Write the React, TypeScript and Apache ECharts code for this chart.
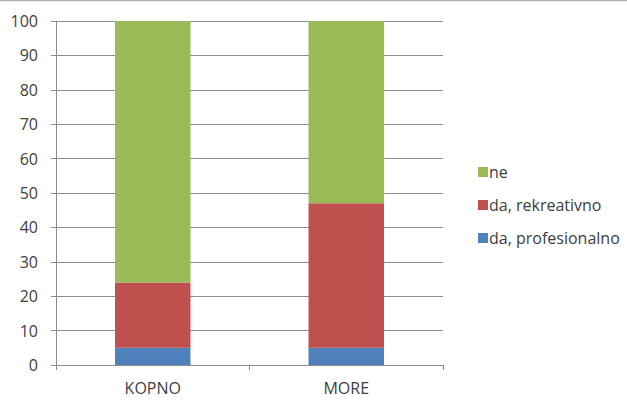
import React, { useEffect, useRef } from "react";
import * as echarts from "echarts";

const categories = ["KOPNO", "MORE"];
const profesionalno = [5, 5];
const rekreativno = [19, 42];
const ne = [76, 53];
const seriesNames = ["da, profesionalno", "da, rekreativno", "ne"];
const legendOrder = ["ne", "da, rekreativno", "da, profesionalno"];

export default function App() {
  const ref = useRef<HTMLDivElement>(null);
  useEffect(() => {
    document.body.style.margin = "0";
    const chart = echarts.init(ref.current!, null, { renderer: "svg" });
    const font = "'Open Sans', 'Noto Sans', sans-serif";
    chart.setOption({
      animation: false,
      backgroundColor: "#ffffff",
      textStyle: { fontFamily: font },
      graphic: [
        {
          type: "line",
          shape: { x1: 0, y1: 0.5, x2: 627, y2: 0.5 },
          style: { stroke: "#b0b0b0", lineWidth: 1.5 },
        },
      ],
      grid: { left: 56, right: 184, top: 21, bottom: 40 },
      legend: {
        orient: "vertical",
        left: 473,
        top: 159,
        itemWidth: 10,
        itemHeight: 10,
        itemGap: 17,
        icon: "rect",
        data: legendOrder,
        textStyle: { fontSize: 16, color: "#404040", fontFamily: font, padding: [0, 0, 0, -4] },
      },
      xAxis: {
        type: "category",
        data: categories,
        axisLine: { lineStyle: { color: "#8c8c8c" } },
        axisTick: { show: true, length: 5, lineStyle: { color: "#8c8c8c" } },
        axisLabel: { fontSize: 16, color: "#404040", margin: 15, fontFamily: font },
      },
      yAxis: {
        type: "value",
        min: 0,
        max: 100,
        interval: 10,
        axisLine: { show: true, lineStyle: { color: "#8c8c8c" } },
        axisTick: { show: true, length: 5, lineStyle: { color: "#8c8c8c" } },
        axisLabel: { fontSize: 16, color: "#404040", margin: 18, fontFamily: font },
        splitLine: { lineStyle: { color: "#8c8c8c" } },
      },
      series: [
        { name: seriesNames[0], type: "bar", stack: "a", data: profesionalno, barWidth: "39%", itemStyle: { color: "#4F81BD" } },
        { name: seriesNames[1], type: "bar", stack: "a", data: rekreativno, barWidth: "39%", itemStyle: { color: "#C0504D" } },
        { name: seriesNames[2], type: "bar", stack: "a", data: ne, barWidth: "39%", itemStyle: { color: "#9BBB59" } },
      ],
    });
    return () => chart.dispose();
  }, []);
  return <div ref={ref} style={{ width: 627, height: 405 }} />;
}
